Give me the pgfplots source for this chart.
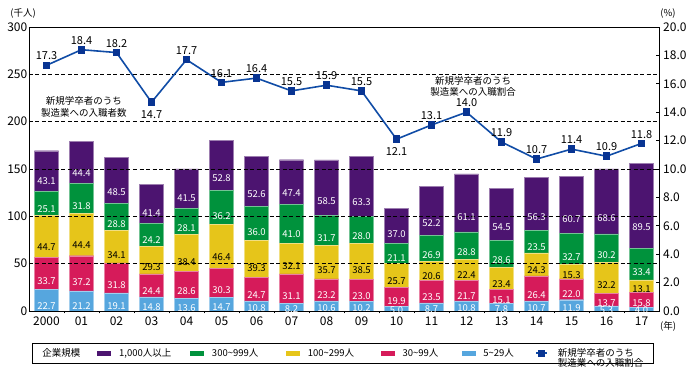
\documentclass[border=0pt]{standalone}
\usepackage{fontspec}
\setmainfont{Noto Sans CJK JP}
\usepackage{pgfplots}
\usepackage{pgfplotstable}
\pgfplotsset{compat=1.18}

\definecolor{cA}{RGB}{76,20,112}
\definecolor{cB}{RGB}{0,146,60}
\definecolor{cC}{RGB}{230,197,26}
\definecolor{cD}{RGB}{214,27,90}
\definecolor{cE}{RGB}{86,166,222}
\definecolor{cL}{RGB}{16,76,166}
\definecolor{cM}{RGB}{8,52,146}

\newcommand{\lbl}{\fontsize{9.5}{10}\selectfont}
\newcommand{\tlbl}{\fontsize{10.5}{11}\selectfont}
\newcommand{\llbl}{\fontsize{11}{12}\selectfont}
\newcommand{\tck}{\fontsize{12}{13}\selectfont}
\newcommand{\lgd}{\fontsize{9.5}{11}\selectfont}

\pgfplotstableread{
x  e    d    c    b    a    tot   r
0  22.7 33.7 44.7 25.1 43.1 169.5 17.3
1  21.2 37.2 44.4 31.8 44.4 179.1 18.4
2  19.1 31.8 34.1 28.8 48.5 162.3 18.2
3  14.8 24.4 29.3 24.2 41.4 134.2 14.7
4  13.6 28.6 38.4 28.1 41.5 150.3 17.7
5  14.7 30.3 46.4 36.2 52.8 180.5 16.1
6  10.8 24.7 39.3 36.0 52.6 163.3 16.4
7  8.2  31.1 32.1 41.0 47.4 159.8 15.5
8  10.6 23.2 35.7 31.7 58.5 159.6 15.9
9  10.2 23.0 38.5 28.0 63.3 163.0 15.5
10 5.0  19.9 25.7 21.1 37.0 108.7 12.1
11 8.7  23.5 20.6 26.9 52.2 131.9 13.1
12 10.8 21.7 22.4 28.8 61.1 144.8 14.0
13 7.8  15.1 23.4 28.6 54.5 129.5 11.9
14 10.7 26.4 24.3 23.5 56.3 141.3 10.7
15 11.9 22.0 15.3 32.7 60.7 142.7 11.4
16 5.3  13.7 32.2 30.2 68.6 149.9 10.9
17 4.0  15.8 13.1 33.4 89.5 155.8 11.8
}\data

\pgfplotsset{
  seg/.style n args={2}{
    fill=#1, draw=#1!55!white, line width=0.4pt,
    nodes near coords, point meta=explicit symbolic,
    visualization depends on={rawy\as\hv},
    every node near coord/.append style={anchor=center, yshift={-0.236667pt*\hv}, text=#2, font=\lbl, inner sep=0pt},
  },
}

\begin{document}
\begin{tikzpicture}
\path[use as bounding box] (0,0) rectangle (694pt,390pt);
\begin{axis}[
  at={(29pt,79pt)}, anchor=south west,
  scale only axis, width=630pt, height=284pt,
  xmin=-0.5, xmax=17.5, ymin=0, ymax=300,
  enlargelimits=false, clip=false,
  ybar stacked, bar width=0.69,
  xtick={0,...,17},
  xticklabels={2000,01,02,03,04,05,06,07,08,09,10,11,12,13,14,15,16,17},
  minor xtick={0.5,1.5,...,16.5},
  ytick={0,50,...,300},
  xtick pos=bottom, ytick pos=left,
  major tick length=0pt, minor tick length=2.5pt, tick align=outside,
  tick style={black, line width=0.6pt},
  ymajorgrids, grid style={black, line width=0.6pt, dash pattern=on 4pt off 2.5pt},
  axis on top,
  axis line style={black, line width=0.8pt},
  tick label style={font=\tck},
  yticklabel style={inner sep=1.5pt},
  xticklabel style={inner sep=0pt, yshift=-5.5pt},
  /pgf/number format/assume math mode=true,
  legend columns=-1,
  legend cell align=left,
  legend style={at={(0,0)}, anchor=north west, xshift=3pt, yshift=-32pt,
    draw=black, line width=0.8pt, inner xsep=10pt, inner ysep=5pt, font=\lgd,
    column sep=0pt,
    /tikz/every odd column/.append style={column sep=8pt},
    /tikz/every even column/.append style={column sep=0pt},
    nodes={inner sep=0pt}},
]
\addplot[seg={cE}{white}, forget plot] table[x=x, y=e, meta=e] {\data};
\addplot[seg={cD}{white}, forget plot] table[x=x, y=d, meta=d] {\data};
\addplot[seg={cC}{black}, forget plot] table[x=x, y=c, meta=c] {\data};
\addplot[seg={cB}{white}, forget plot] table[x=x, y=b, meta=b] {\data};
\addplot[seg={cA}{white}, forget plot] table[x=x, y=a, meta=a] {\data};
\addplot[draw=none, fill=none, forget plot, nodes near coords, point meta=explicit symbolic,
  every node near coord/.append style={anchor=south, yshift=1pt, inner sep=1pt, text=black, font=\tlbl}]
  table[x=x, y expr=0, meta=tot] {\data};

\addlegendimage{empty legend}
\addlegendentry{\hspace*{-8pt}\makebox[55pt][l]{企業規模}}
\addlegendimage{legend image code/.code={\fill[cA] (0pt,-2pt) rectangle (13pt,2pt);}}
\addlegendentry{\makebox[71pt][l]{1,000人以上}}
\addlegendimage{legend image code/.code={\fill[cB] (0pt,-2pt) rectangle (13pt,2pt);}}
\addlegendentry{\makebox[74pt][l]{300\textasciitilde999人}}
\addlegendimage{legend image code/.code={\fill[cC] (0pt,-2pt) rectangle (13pt,2pt);}}
\addlegendentry{\makebox[73pt][l]{100\textasciitilde299人}}
\addlegendimage{legend image code/.code={\fill[cD] (0pt,-2pt) rectangle (13pt,2pt);}}
\addlegendentry{\makebox[59pt][l]{30\textasciitilde99人}}
\addlegendimage{legend image code/.code={\fill[cE] (0pt,-2pt) rectangle (13pt,2pt);}}
\addlegendentry{\makebox[52pt][l]{5\textasciitilde29人}}
\addlegendimage{legend image code/.code={\draw[cL, line width=1.6pt] (0pt,0pt) -- (11pt,0pt); \fill[cM] (2.5pt,-3pt) rectangle (8.5pt,3pt);}}
\addlegendentry{\hspace*{2pt}\begin{tabular}[t]{@{}l@{}}新規学卒者のうち\\[-1pt]製造業への入職割合\end{tabular}}

\node[font=\lgd, align=center] at (axis cs:1.07,215.5) {新規学卒者のうち\\[1pt]製造業への入職者数};
\node[font=\lgd, align=center] at (axis cs:12.19,237.7) {新規学卒者のうち\\[0pt]製造業への入職割合};
\node[font=\lgd] at (rel axis cs:-0.0095,1.049) {(千人)};
\node[font=\lgd] at (rel axis cs:1.0143,1.049) {(\%)};
\node[font=\lgd] at (rel axis cs:1.0143,-0.0528) {(年)};
\end{axis}

\begin{axis}[
  at={(29pt,79pt)}, anchor=south west,
  scale only axis, width=630pt, height=284pt,
  xmin=-0.5, xmax=17.5, ymin=0, ymax=20,
  enlargelimits=false, clip=false,
  axis y line*=right, hide x axis,
  ytick={0,2,...,20},
  yticklabel style={/pgf/number format/fixed, /pgf/number format/fixed zerofill, /pgf/number format/precision=1, inner xsep=4pt},
  /pgf/number format/assume math mode=true,
  tick align=inside, major tick length=3pt,
  tick style={black, line width=0.6pt},
  axis line style={black, line width=0.8pt},
  tick label style={font=\tck},
]
\addplot[cL, line width=1.6pt, mark=square*, mark size=3.3pt, mark options={fill=cM, draw=cM, line width=0pt}]
  table[x=x, y=r] {\data};
\addplot[black, draw=none, mark=none, nodes near coords, point meta=explicit symbolic,
  skip coords between index={3}{4}, skip coords between index={10}{11},
  every node near coord/.append style={anchor=south, yshift=4pt, inner sep=1pt, text=black, font=\llbl}]
  table[x=x, y=r, meta=r] {\data};
\addplot[black, draw=none, mark=none, nodes near coords, point meta=explicit symbolic,
  skip coords between index={0}{3}, skip coords between index={4}{10}, skip coords between index={11}{18},
  every node near coord/.append style={anchor=north, yshift=-7pt, inner sep=1pt, text=black, font=\llbl}]
  table[x=x, y=r, meta=r] {\data};
\end{axis}
\end{tikzpicture}
\end{document}
